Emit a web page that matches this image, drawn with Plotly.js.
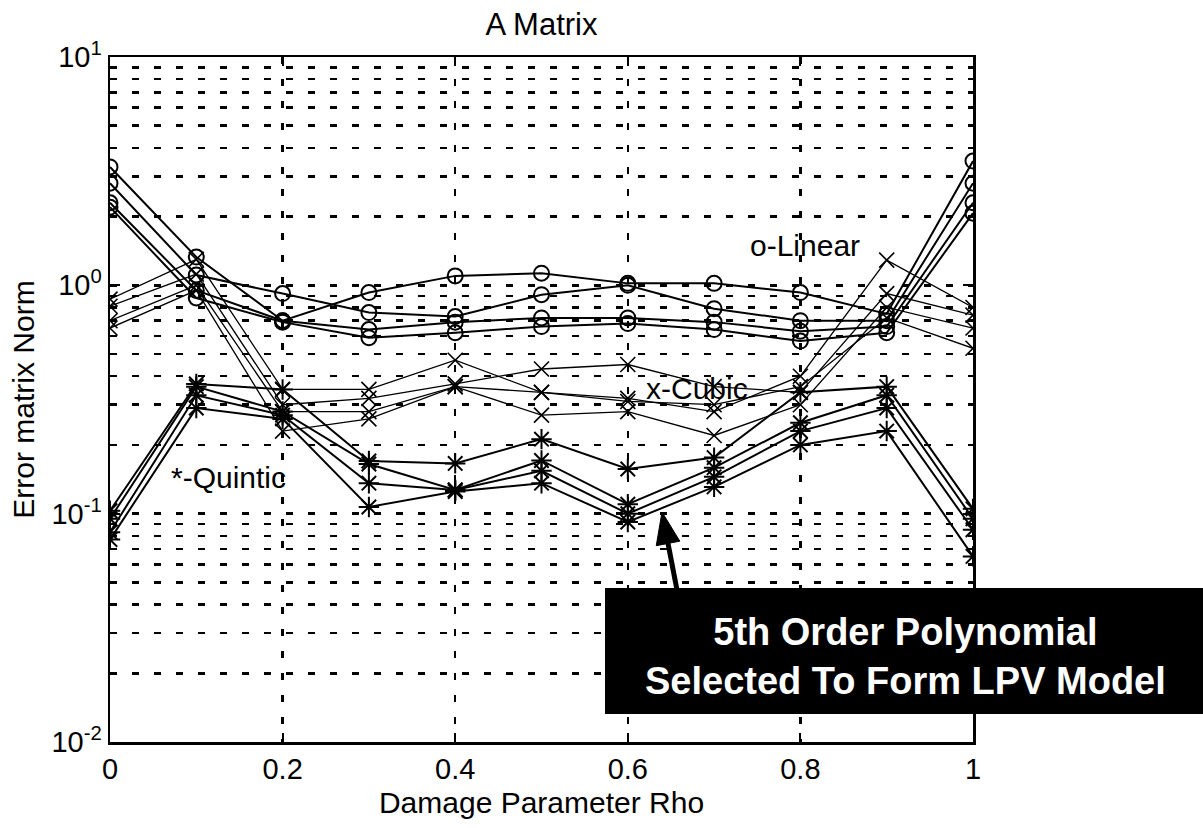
<!DOCTYPE html>
<html>
<head>
<meta charset="utf-8">
<script src="https://cdn.plot.ly/plotly-3.0.1.min.js"></script>
<style>
  html, body { margin: 0; padding: 0; background: #fff; }
  #chart { width: 1203px; height: 828px; }
</style>
</head>
<body>
<div id="chart"></div>
<script>
// Damage parameter rho
const rho = [0, 0.1, 0.2, 0.3, 0.4, 0.5, 0.6, 0.7, 0.8, 0.9, 1.0];

// Linear fit errors (o markers)
const linear1 = [3.3, 1.33, 0.70, 0.93, 1.10, 1.13, 1.02, 1.02, 0.93, 0.75, 3.5];
const linear2 = [2.8, 1.11, 0.92, 0.76, 0.73, 0.91, 1.00, 0.79, 0.70, 0.70, 2.8];
const linear3 = [2.3, 0.95, 0.70, 0.64, 0.69, 0.72, 0.72, 0.69, 0.63, 0.66, 2.3];
const linear4 = [2.2, 0.88, 0.69, 0.59, 0.62, 0.66, 0.68, 0.64, 0.57, 0.62, 2.07];

// Cubic fit errors (x markers)
const cubic1 = [0.87, 1.30, 0.35, 0.35, 0.47, 0.34, 0.32, 0.28, 0.40, 1.29, 0.80];
const cubic2 = [0.81, 1.12, 0.30, 0.32, 0.37, 0.43, 0.45, 0.36, 0.34, 0.92, 0.74];
const cubic3 = [0.70, 1.00, 0.28, 0.28, 0.36, 0.27, 0.28, 0.22, 0.30, 0.80, 0.65];
const cubic4 = [0.65, 0.95, 0.23, 0.26, 0.36, 0.34, 0.31, 0.30, 0.36, 0.72, 0.53];

// Quintic fit errors (* markers)
const quintic1 = [0.103, 0.37, 0.35, 0.170, 0.166, 0.212, 0.157, 0.176, 0.34, 0.36, 0.105];
const quintic2 = [0.095, 0.36, 0.28, 0.165, 0.127, 0.171, 0.110, 0.159, 0.25, 0.33, 0.095];
const quintic3 = [0.083, 0.33, 0.27, 0.136, 0.127, 0.154, 0.100, 0.145, 0.23, 0.29, 0.085];
const quintic4 = [0.077, 0.29, 0.26, 0.107, 0.125, 0.136, 0.092, 0.131, 0.20, 0.23, 0.065];

// Axis ticks
const xTickVals = [0, 0.2, 0.4, 0.6, 0.8, 1];
const xTickText = ['0', '0.2', '0.4', '0.6', '0.8', '1'];
const yTickVals = [0.01, 0.1, 1, 10];
const yTickText = ['10<sup>-2</sup>', '10<sup>-1</sup>', '10<sup>0</sup>', '10<sup>1</sup>'];
const yMinorVals = [0.02, 0.03, 0.04, 0.05, 0.06, 0.07, 0.08, 0.09,
                    0.2, 0.3, 0.4, 0.5, 0.6, 0.7, 0.8, 0.9,
                    2, 3, 4, 5, 6, 7, 8, 9];

const FONT = 'Liberation Sans, Arial, Helvetica, sans-serif';
const GRID_DASH = '7px,15px';

// Page geometry of the plotting area, used to place the callout in paper units
const W = 1203, H = 828;
const M = { l: 110, r: 230, t: 57, b: 86 };
const PW = W - M.l - M.r, PH = H - M.t - M.b;
const px = (x) => (x - M.l) / PW;
const py = (y) => (H - M.b - y) / PH;

function series(y, symbol, size, lineWidth, markerWidth) {
  return {
    x: rho, y: y, type: 'scatter', mode: 'lines+markers',
    line: { color: '#000', width: lineWidth },
    marker: { symbol: symbol, size: size, color: '#000',
              line: { color: '#000', width: markerWidth } },
    hoverinfo: 'x+y', showlegend: false
  };
}

const traces = [
  series(cubic1, 'x-thin-open', 15, 1.3, 1.6),
  series(cubic2, 'x-thin-open', 15, 1.3, 1.6),
  series(cubic3, 'x-thin-open', 15, 1.3, 1.6),
  series(cubic4, 'x-thin-open', 15, 1.3, 1.6),
  series(linear1, 'circle-open', 15, 2, 2),
  series(linear2, 'circle-open', 15, 2, 2),
  series(linear3, 'circle-open', 15, 2, 2),
  series(linear4, 'circle-open', 15, 2, 2),
  series(quintic1, 'asterisk-open', 17, 2, 2),
  series(quintic2, 'asterisk-open', 17, 2, 2),
  series(quintic3, 'asterisk-open', 17, 2, 2),
  series(quintic4, 'asterisk-open', 17, 2, 2)
];

// Callout arrow: shaft from the box up to the quintic minimum, with a filled head
const tail = [677, 590], tip = [662, 512];
const dx = tip[0] - tail[0], dy = tip[1] - tail[1];
const len = Math.hypot(dx, dy), ux = dx / len, uy = dy / len;
const headLen = 32, headHalf = 12;
const base = [tip[0] - headLen * ux, tip[1] - headLen * uy];
const c1 = [base[0] - uy * headHalf, base[1] + ux * headHalf];
const c2 = [base[0] + uy * headHalf, base[1] - ux * headHalf];
const headPath = 'M ' + px(tip[0]) + ',' + py(tip[1]) +
                 ' L ' + px(c1[0]) + ',' + py(c1[1]) +
                 ' L ' + px(c2[0]) + ',' + py(c2[1]) + ' Z';

const layout = {
  width: W, height: H,
  paper_bgcolor: '#fff', plot_bgcolor: '#fff',
  margin: M,
  font: { family: FONT, color: '#000', size: 28 },
  title: {
    text: 'A Matrix',
    font: { family: FONT, size: 31, color: '#000' },
    x: 0.5, xref: 'paper', xanchor: 'center',
    y: 1 - 24 / H, yref: 'container', yanchor: 'middle'
  },
  xaxis: {
    range: [0, 1],
    tickmode: 'array', tickvals: xTickVals, ticktext: xTickText,
    ticks: 'inside', ticklen: 9, tickwidth: 2, tickcolor: '#000',
    tickfont: { family: FONT, size: 29, color: '#000' },
    showline: true, linecolor: '#000', linewidth: 2.5, mirror: 'allticks',
    showgrid: true, gridcolor: '#000', gridwidth: 2.5, griddash: GRID_DASH,
    zeroline: false,
    title: { text: 'Damage Parameter Rho', font: { family: FONT, size: 30, color: '#000' }, standoff: 8 }
  },
  yaxis: {
    type: 'log', range: [-2, 1],
    tickmode: 'array', tickvals: yTickVals, ticktext: yTickText,
    ticks: 'inside', ticklen: 10, tickwidth: 2, tickcolor: '#000',
    tickfont: { family: FONT, size: 29, color: '#000' },
    showline: true, linecolor: '#000', linewidth: 2.5, mirror: 'allticks',
    showgrid: true, gridcolor: '#000', gridwidth: 2.5, griddash: GRID_DASH,
    zeroline: false,
    minor: {
      tickmode: 'array', tickvals: yMinorVals,
      ticks: 'inside', ticklen: 5, tickwidth: 2, tickcolor: '#000',
      showgrid: true, gridcolor: '#000', gridwidth: 2.5, griddash: GRID_DASH
    },
    title: { text: 'Error matrix Norm', font: { family: FONT, size: 30, color: '#000' }, standoff: 8 }
  },
  shapes: [
    {
      type: 'rect', xref: 'paper', yref: 'paper', layer: 'above',
      x0: px(605), x1: px(1215), y0: py(714), y1: py(588),
      fillcolor: '#000', line: { width: 0 }
    },
    {
      type: 'line', xref: 'paper', yref: 'paper', layer: 'above',
      x0: px(tail[0]), y0: py(tail[1]), x1: px(base[0]), y1: py(base[1]),
      line: { color: '#000', width: 5 }
    },
    {
      type: 'path', xref: 'paper', yref: 'paper', layer: 'above',
      path: headPath, fillcolor: '#000', line: { color: '#000', width: 1 }
    }
  ],
  annotations: [
    { text: 'o-Linear', x: 0.805, y: Math.log10(1.50), xref: 'x', yref: 'y',
      showarrow: false, font: { family: FONT, size: 30, color: '#000' } },
    { text: 'x-Cubic', x: 0.68, y: Math.log10(0.355), xref: 'x', yref: 'y',
      showarrow: false, font: { family: FONT, size: 30, color: '#000' } },
    { text: '*-Quintic', x: 0.137, y: Math.log10(0.1446), xref: 'x', yref: 'y',
      showarrow: false, font: { family: FONT, size: 30, color: '#000' } },
    { text: '<b>5th Order Polynomial</b><br><b>Selected To Form LPV Model</b>',
      x: px(905), y: py(656), xref: 'paper', yref: 'paper',
      xanchor: 'center', yanchor: 'middle', align: 'center',
      showarrow: false, font: { family: FONT, size: 38, color: '#fff' } }
  ]
};

Plotly.newPlot('chart', traces, layout, { staticPlot: true, displayModeBar: false });
</script>
</body>
</html>
